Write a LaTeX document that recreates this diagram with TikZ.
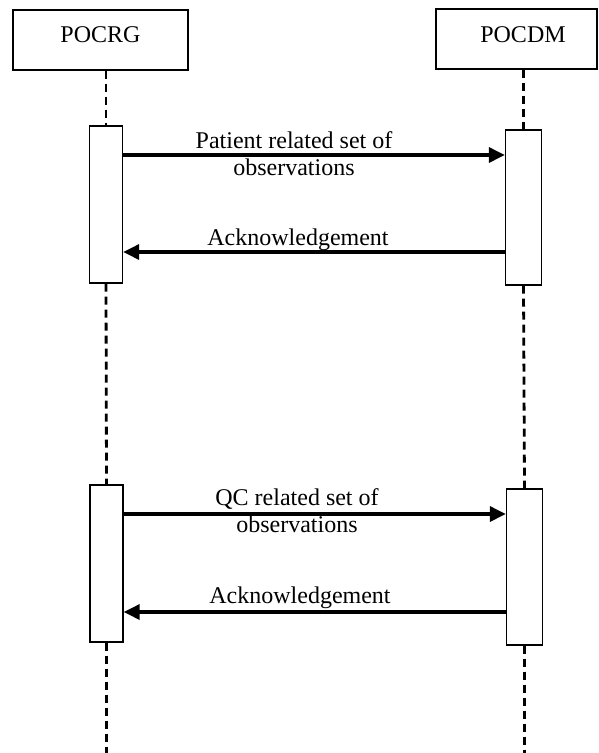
\documentclass[tikz,border=0pt]{standalone}
\usepackage{fontspec}
\setmainfont{Liberation Serif}
\usetikzlibrary{arrows.meta}
\begin{document}
\begin{tikzpicture}[x=1pt,y=-1pt,
  font=\fontsize{24}{27}\selectfont,
  header/.style={draw,line width=1.3pt,inner sep=0pt},
  actbox/.style={draw,fill=white,line width=1.3pt,inner sep=0pt,minimum width=#1},
  lifeline/.style={line width=2.8pt,dash pattern=on 8pt off 5pt},
  msg/.style={line width=3.2pt,-{Triangle[length=16pt,width=15pt]}},
  msglabel/.style={inner sep=0pt,align=center}]
\useasboundingbox (0,0) rectangle (598,753);

% participants
\node[header,minimum width=175pt,minimum height=60pt] (rg) at (100.5,40) {};
\node[inner sep=0pt] (rgtext) at (100.5,35) {POCRG};
\node[header,minimum width=161pt,minimum height=60pt] (dm) at (516.5,39) {};
\node[inner sep=0pt] (dmtext) at (523,34.5) {POCDM};

% activation bars
\node[actbox=33pt,minimum height=157pt] (a1) at (106,204.5) {};
\node[actbox=36pt,minimum height=155pt] (b1) at (523.5,207.5) {};
\node[actbox=33pt,minimum height=157pt] (a2) at (106.5,563.5) {};
\node[actbox=36pt,minimum height=156pt] (b2) at (524.5,567) {};

\coordinate (bottom) at (0,753);

% lifelines
\draw[lifeline] (a1.north |- rg.south) -- (a1.north);
\draw[lifeline] (a1.south) -- (a2.north);
\draw[lifeline] (a2.south) -- (a2.south |- bottom);
\draw[lifeline] (b1.north |- dm.south) -- (b1.north);
\draw[lifeline] (b1.south) -- (b2.north);
\draw[lifeline] (b2.south) -- (b2.south |- bottom);

% message rows
\coordinate (y1) at (0,155);
\coordinate (y2) at (0,252);
\coordinate (y3) at (0,514);
\coordinate (y4) at (0,612);

\draw[msg] (a1.east |- y1) -- (b1.west |- y1);
\draw[msg] (b1.west |- y2) -- (a1.east |- y2);
\draw[msg] (a2.east |- y3) -- (b2.west |- y3);
\draw[msg] (b2.west |- y4) -- (a2.east |- y4);

\node[msglabel] (l1) at (294,153.5) {Patient related set of\\observations};
\node[msglabel] (l2) at (298,239.5) {Acknowledgement};
\node[msglabel] (l3) at (297,510.5) {QC related set of\\observations};
\node[msglabel] (l4) at (300,597.5) {Acknowledgement};
\end{tikzpicture}
\end{document}
